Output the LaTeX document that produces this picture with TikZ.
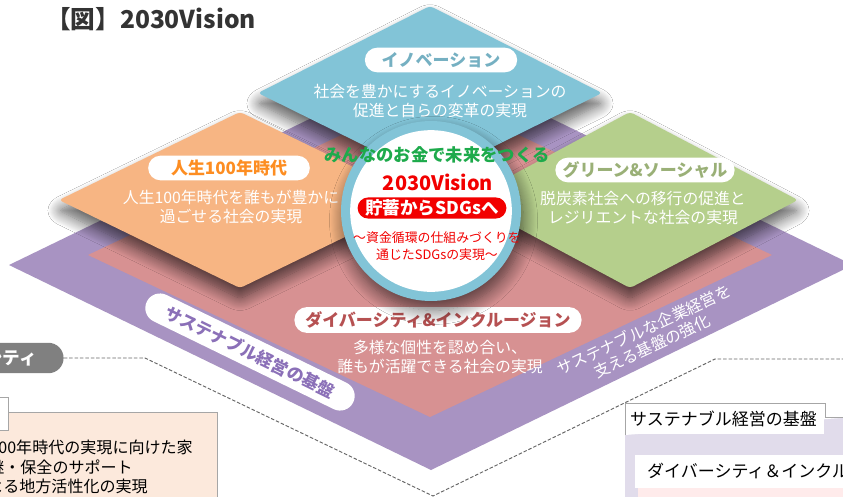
\documentclass[tikz,border=0pt]{standalone}
\usepackage{fontspec}
\newfontfamily\jp{Noto Sans CJK JP}
\usepackage{xcolor}
\usepackage{tikz}
\usetikzlibrary{positioning,shadows.blur}

\definecolor{basepurple}{HTML}{A893C2}
\definecolor{purpletxt}{HTML}{8B70B8}
\definecolor{divpink}{HTML}{D79192}
\definecolor{lifeorange}{HTML}{F7B583}
\definecolor{greensoc}{HTML}{B5CF8C}
\definecolor{innoblue}{HTML}{82C4D7}
\definecolor{mirai}{HTML}{1DAA4B}
\definecolor{visionred}{HTML}{F20000}
\definecolor{peach}{HTML}{FCE9DC}
\definecolor{lavender}{HTML}{E1DCEB}

\begin{document}
\begin{tikzpicture}[
  x=0.03cm,y=-0.03cm,font=\jp,
  plate/.style={rounded corners=3pt,blur shadow={shadow xshift=0pt,shadow yshift=-9pt,
                shadow blur radius=11pt,shadow blur steps=14,shadow opacity=65}},
  tag/.style={fill=white,rounded corners=10.5pt,minimum height=21pt,inner sep=0pt,
              font=\jp\bfseries\fontsize{14.5}{16}\selectfont},
  desc/.style={text=white,align=center,font=\jp\fontsize{13.5}{15.5}\selectfont},
  memo/.style={anchor=east,inner sep=0pt,font=\jp\fontsize{13.7}{16}\selectfont},
  link/.style={draw=black!60,dash pattern=on 3pt off 1.6pt,line width=0.8pt}
]
  \path[use as bounding box] (0,0) rectangle (843,496);
  \clip (0,0) rectangle (843,496);
  \fill[white] (0,0) rectangle (843,496);

  % title
  \node[anchor=west,inner sep=0pt,text=black!80,font=\jp\bfseries\fontsize{21}{24}\selectfont]
    (title) at (46,19) {【図】2030Vision};

  % left side panel
  \node[fill=black!50,rounded corners=13pt,minimum height=26pt,minimum width=100pt,
        inner sep=0pt] (pill) at (5,358) {};
  \node[anchor=east,text=white,font=\jp\bfseries\fontsize{15}{16}\selectfont,inner sep=0pt]
    (pilltext) at (37,358) {シティ};
  \draw[draw=black!35,fill=peach] (-10,412) rectangle (217,510);
  \draw[draw=black!35,fill=white] (-60,397) rectangle (8,430);
  \node[memo] (memo1) at (193,447) {100年時代の実現に向けた家};
  \node[memo] (memo2) at (133,467) {継・保全のサポート};
  \node[memo] (memo3) at (148,486) {による地方活性化の実現};

  % right side panel
  \fill[lavender] (625,417) rectangle (853,510);
  \draw[draw=black!35,fill=white] (625,435) -- (625,403) -- (825,403) -- (825,417) -- (853,417);
  \fill[white] (626,404) rectangle (824,434);
  \node[anchor=west,inner sep=0pt,font=\jp\fontsize{14.5}{16}\selectfont]
    (basetab) at (630,419) {サステナブル経営の基盤};
  \fill[white] (635,455) rectangle (853,488);
  \fill[red!8] (638,488) rectangle (853,510);
  \node[anchor=west,inner sep=0pt,font=\jp\fontsize{14.5}{16}\selectfont]
    (divtab) at (647,471) {ダイバーシティ＆インクルージョン};

  % dashed guide
  \coordinate (g1) at (145,358);
  \coordinate (g2) at (433,496);
  \coordinate (g3) at (715,359);
  \coordinate (g4) at (850,359);
  \draw[link] (pill.east) -- (g1) -- (g2) -- (g3) -- (g4);

  % layered plates
  \fill[basepurple] (9,265) -- (431,60) -- (853,265) -- (431,470) -- cycle;
  \fill[divpink] (88,255) -- (430,93) -- (772,255) -- (430,417) -- cycle;
  \fill[lifeorange,plate] (59,200) -- (240,112) -- (421,200) -- (240,288) -- cycle;
  \fill[greensoc,plate] (466,200) -- (630,112) -- (798,200) -- (630,288) -- cycle;
  \fill[innoblue,plate] (258,93) -- (430,6) -- (602,93) -- (430,178) -- cycle;

  % plate labels
  \node[tag,text=innoblue!90!black,minimum width=130pt] (inno) at (441,60) {イノベーション};
  \node[desc] (innotext) at (440,101) {社会を豊かにするイノベーションの\\促進と自らの変革の実現};

  \node[tag,text=orange!75!lifeorange,minimum width=138pt] (life) at (229,168) {人生100年時代};
  \node[desc] (lifetext) at (231,207) {人生100年時代を誰もが豊かに\\過ごせる社会の実現};

  \node[tag,text=greensoc!85!black,minimum width=153pt] (green) at (645,170) {グリーン\&ソーシャル};
  \node[desc] (greentext) at (643,208) {脱炭素社会への移行の促進と\\レジリエントな社会の実現};

  \node[tag,text=divpink!70!red!80!black,minimum width=245pt,minimum height=22pt]
    (div) at (438,320) {ダイバーシティ\&インクルージョン};
  \node[desc] (divtext) at (440,357) {多様な個性を認め合い、\\誰もが活躍できる社会の実現};

  \node[tag,text=purpletxt,rotate=-26,minimum width=196pt,minimum height=25pt,
        rounded corners=12.5pt] (found) at (250,352) {サステナブル経営の基盤};
  \node[desc,rotate=25] (foundtext) at (648,338) {サステナブルな企業経営を\\支える基盤の強化};

  % centre
  \node[circle,fill=innoblue,minimum size=153.6pt,inner sep=0pt,
        blur shadow={shadow yshift=-8pt,shadow blur radius=12pt,shadow blur steps=14,shadow opacity=60}]
    (ring) at (431,211) {};
  \node[circle,fill=white,minimum size=138pt,inner sep=0pt] (core) at (ring.center) {};
  \node[text=mirai,font=\jp\bfseries\fontsize{14.8}{16}\selectfont] (motto) at (437,155)
    {みんなのお金で未来をつくる};
  \node[text=visionred,font=\jp\bfseries\fontsize{17}{19}\selectfont] (vision) at (438,182)
    {2030Vision};
  \node[fill=visionred,text=white,rounded corners=9pt,minimum width=127pt,minimum height=18pt,
        inner sep=0pt,font=\jp\bfseries\fontsize{15}{16}\selectfont] (shift) at (432,208)
    {貯蓄からSDGsへ};
  \node[text=visionred,align=center,font=\jp\fontsize{11}{14.5}\selectfont] (flow) at (437,246)
    {～資金循環の仕組みづくりを\\通じたSDGsの実現～};
\end{tikzpicture}
\end{document}
